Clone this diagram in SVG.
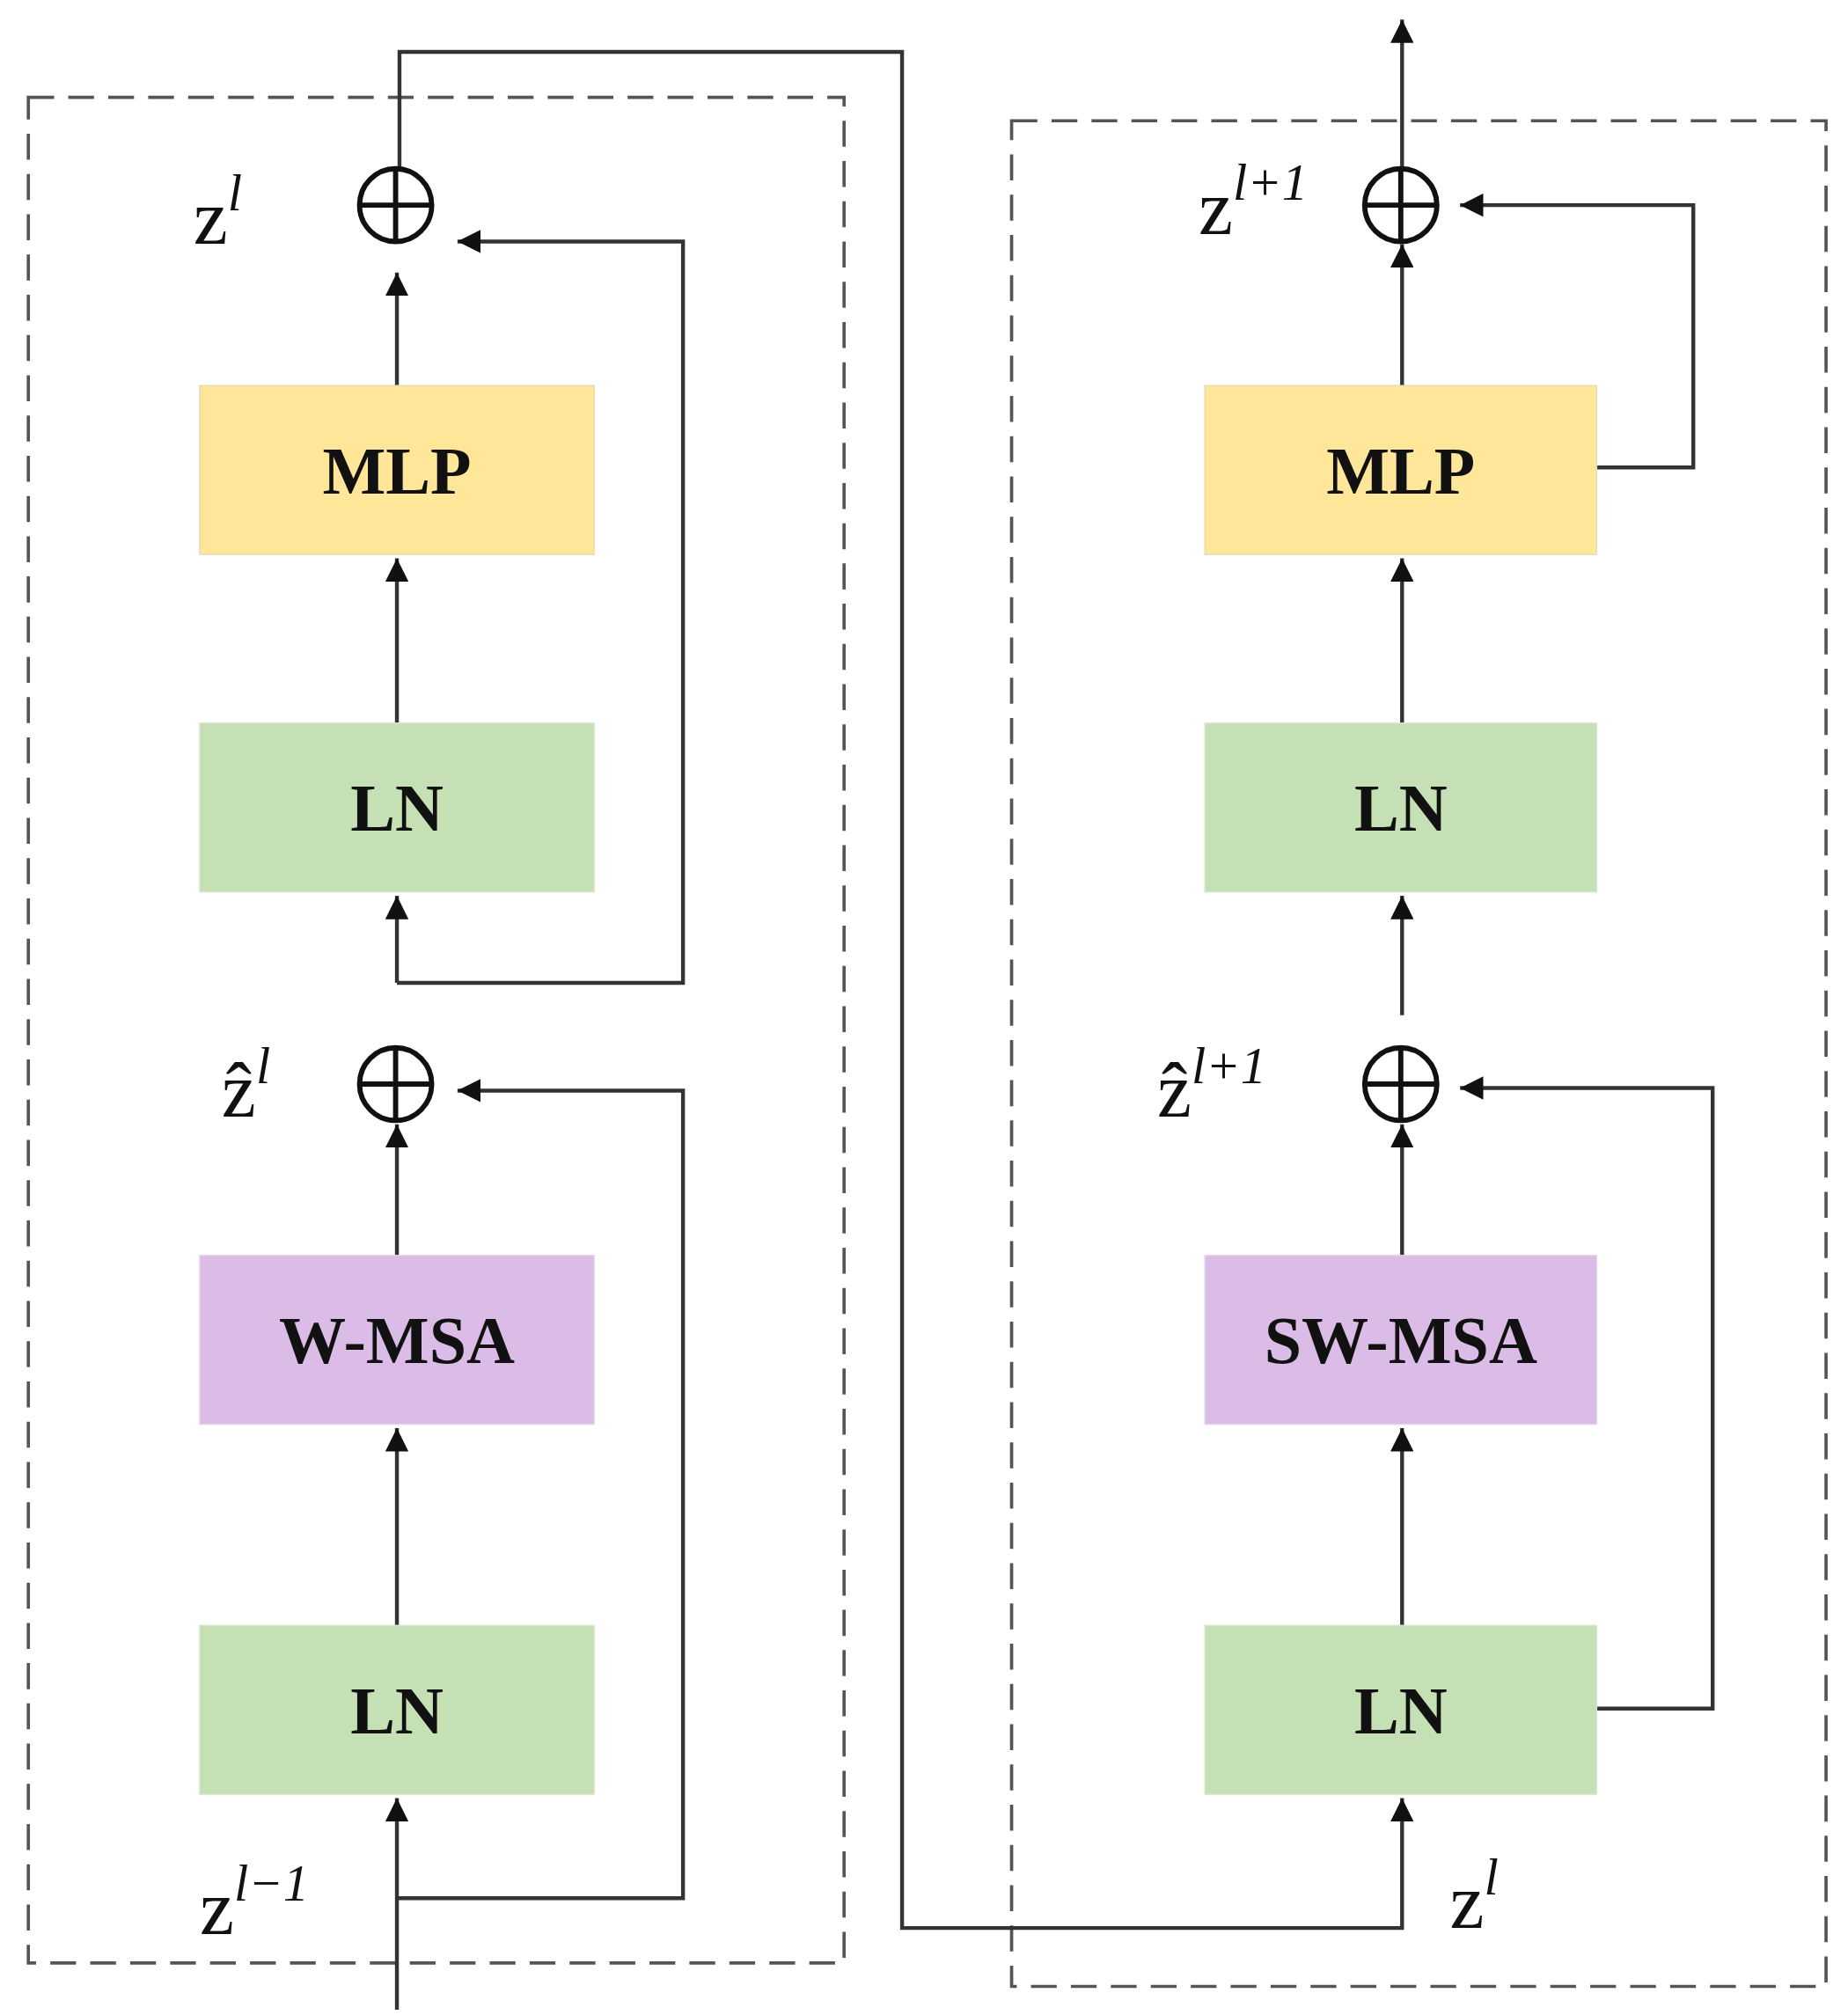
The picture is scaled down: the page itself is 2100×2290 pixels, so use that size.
<svg xmlns="http://www.w3.org/2000/svg" width="2100" height="2290" viewBox="0 0 2100 2290">
<defs>
<marker id="ah" viewBox="0 0 10 10" refX="10" refY="5" markerWidth="6" markerHeight="6" orient="auto" markerUnits="strokeWidth"><path d="M0,0 L10,5 L0,10 z" fill="#111"/></marker>
<style>
.c{fill:none;stroke:#333;stroke-width:3}
.d{fill:none;stroke:#555;stroke-width:2.5;stroke-dasharray:20 11}
.b{font-family:"Liberation Serif",serif;font-weight:bold;font-size:52px;fill:#111;text-anchor:middle}
.m{font-family:"Liberation Serif",serif;font-size:60px;fill:#111}
.s{font-size:40px;font-style:italic}
.p{fill:none;stroke:#111;stroke-width:4}
</style>
</defs>
<rect width="2100" height="2290" fill="#fff"/>
<g transform="scale(1.4644,1.4755)">
<rect class="d" x="22" y="75" width="633" height="1437"/>
<rect class="d" x="785" y="93" width="632" height="1437"/>
<g id="connectors">
<path class="c" d="M308,297 V210" marker-end="url(#ah)"/>
<path class="c" d="M308,557 V430" marker-end="url(#ah)"/>
<path class="c" d="M308,757 V690" marker-end="url(#ah)"/>
<path class="c" d="M308,757 H530 V186 H355" marker-end="url(#ah)"/>
<path class="c" d="M308,967 V866" marker-end="url(#ah)"/>
<path class="c" d="M308,1252 V1100" marker-end="url(#ah)"/>
<path class="c" d="M308,1548 V1385" marker-end="url(#ah)"/>
<path class="c" d="M308,1462 H530 V840 H355" marker-end="url(#ah)"/>
<path class="c" d="M310,130 V40 H700 V1485 H1088 V1385" marker-end="url(#ah)"/>
<path class="c" d="M1088,297 V188" marker-end="url(#ah)"/>
<path class="c" d="M1088,130 V15" marker-end="url(#ah)"/>
<path class="c" d="M1088,557 V430" marker-end="url(#ah)"/>
<path class="c" d="M1088,782 V690" marker-end="url(#ah)"/>
<path class="c" d="M1239,360 H1314 V158 H1133" marker-end="url(#ah)"/>
<path class="c" d="M1088,967 V866" marker-end="url(#ah)"/>
<path class="c" d="M1088,1252 V1100" marker-end="url(#ah)"/>
<path class="c" d="M1239,1316 H1329 V838 H1133" marker-end="url(#ah)"/>
</g>
<g id="add1"><circle class="p" cx="307" cy="158" r="28"/><path class="p" d="M279,158 H335 M307,130 V186"/></g>
<g id="add2"><circle class="p" cx="307" cy="835" r="28"/><path class="p" d="M279,835 H335 M307,807 V863"/></g>
<g id="add3"><circle class="p" cx="1087" cy="158" r="28"/><path class="p" d="M1059,158 H1115 M1087,130 V186"/></g>
<g id="add4"><circle class="p" cx="1087" cy="835" r="28"/><path class="p" d="M1059,835 H1115 M1087,807 V863"/></g>
<g id="mlp1"><rect x="155" y="297" width="306" height="130" fill="#ffe699" stroke="#eadbb0"/><text class="b" x="308" y="380">MLP</text></g>
<g id="ln1"><rect x="155" y="557" width="306" height="130" fill="#c5e0b4" stroke="#d6e6cc"/><text class="b" x="308" y="640">LN</text></g>
<g id="wmsa"><rect x="155" y="967" width="306" height="130" fill="#dabce6" stroke="#e3d0ea"/><text class="b" x="308" y="1050">W-MSA</text></g>
<g id="ln2"><rect x="155" y="1252" width="306" height="130" fill="#c5e0b4" stroke="#d6e6cc"/><text class="b" x="308" y="1335">LN</text></g>
<g id="mlp2"><rect x="935" y="297" width="304" height="130" fill="#ffe699" stroke="#eadbb0"/><text class="b" x="1087" y="380">MLP</text></g>
<g id="ln3"><rect x="935" y="557" width="304" height="130" fill="#c5e0b4" stroke="#d6e6cc"/><text class="b" x="1087" y="640">LN</text></g>
<g id="swmsa"><rect x="935" y="967" width="304" height="130" fill="#dabce6" stroke="#e3d0ea"/><text class="b" x="1087" y="1050">SW-MSA</text></g>
<g id="ln4"><rect x="935" y="1252" width="304" height="130" fill="#c5e0b4" stroke="#d6e6cc"/><text class="b" x="1087" y="1335">LN</text></g>
<g id="labels">
<text class="m" x="150" y="188">z<tspan class="s" dy="-26">l</tspan></text>
<text class="m" x="155" y="1490">z<tspan class="s" dy="-26">l−1</tspan></text>
<text class="m" x="172" y="860">ẑ<tspan class="s" dy="-26">l</tspan></text>
<text class="m" x="930" y="180">z<tspan class="s" dy="-26" font-style="normal"><tspan font-style="italic">l</tspan>+1</tspan></text>
<text class="m" x="898" y="860">ẑ<tspan class="s" dy="-26" font-style="normal"><tspan font-style="italic">l</tspan>+1</tspan></text>
<text class="m" x="1125" y="1485">z<tspan class="s" dy="-26">l</tspan></text>
</g>
</g>
</svg>
